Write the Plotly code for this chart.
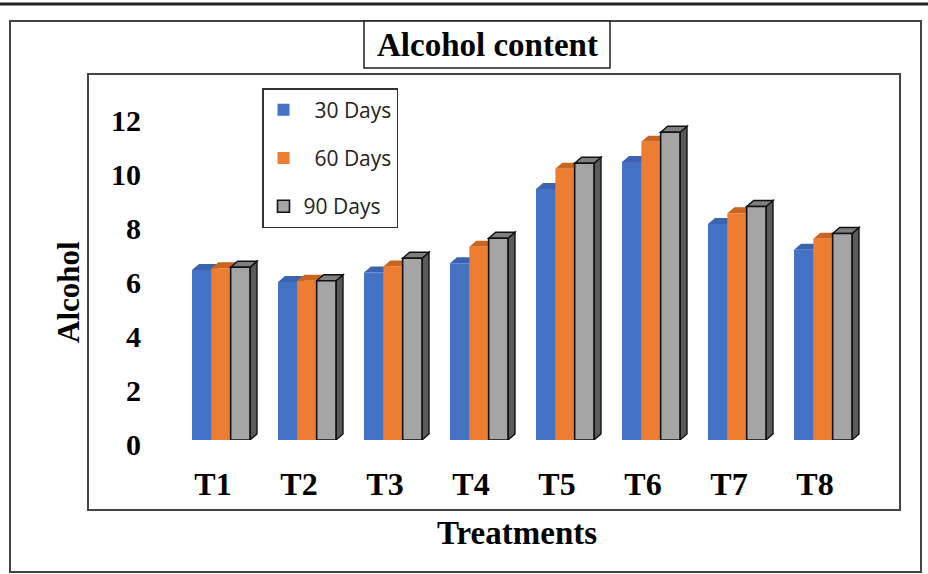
import plotly.graph_objects as go

categories = ["T1", "T2", "T3", "T4", "T5", "T6", "T7", "T8"]
days_30 = [6.3, 5.85, 6.2, 6.55, 9.3, 10.3, 8.0, 7.05]
days_60 = [6.36, 5.9, 6.43, 7.16, 10.05, 11.05, 8.4, 7.45]
days_90 = [6.4, 5.9, 6.73, 7.47, 10.25, 11.4, 8.65, 7.65]
series_names = ["\u00a0\u00a030 Days", "\u00a0\u00a060 Days", "90 Days"]
y_ticks = [0, 2, 4, 6, 8, 10, 12]

W, H = 928, 574
def px(x):
    return x / W
def py(y):
    return 1 - y / H

front = ["#4472C4", "#ED7D31", "#A5A5A5"]
cap = ["#3B63B0", "#C9651F", "#7F7F7F"]
side = ["#2F5597", "#B0531A", "#5A5A5A"]
outline = [None, None, "#111111"]

bargap = 0.326
gw = 1 - bargap
bw = gw / 3
plot_l, plot_r, plot_b, plot_t = 178, 866, 440, 116
dx = 7 / ((plot_r - plot_l) / len(categories))
dy = 6 / ((plot_b - plot_t) / 12)

xs = list(range(len(categories)))
fig = go.Figure()
all_vals = [days_30, days_60, days_90]
for j, vals in enumerate(all_vals):
    mk = dict(color=front[j])
    if outline[j]:
        mk["line"] = dict(color=outline[j], width=1.6)
    else:
        mk["line"] = dict(width=0)
    fig.add_trace(go.Bar(x=xs, y=vals, name=series_names[j], marker=mk,
                         legendgroup=f"g{j}"))

shapes = []
for j, vals in enumerate(all_vals):
    for i, v in enumerate(vals):
        xc = i - gw / 2 + bw * (j + 0.5)
        x0 = xc - bw / 2
        x1 = xc + bw / 2
        ln = dict(color=outline[j], width=1.4) if outline[j] else dict(width=0)
        shapes.append(dict(type="path", xref="x", yref="y", layer="below",
                           path=f"M {x1},0 L {x1+dx},{dy} L {x1+dx},{v+dy} L {x1},{v} Z",
                           fillcolor=side[j], line=ln))
        shapes.append(dict(type="path", xref="x", yref="y", layer="below",
                           path=f"M {x0},{v} L {x0+dx},{v+dy} L {x1+dx},{v+dy} L {x1},{v} Z",
                           fillcolor=cap[j], line=ln))

# frames
shapes.append(dict(type="line", xref="paper", yref="paper", x0=0, x1=1,
                   y0=py(4), y1=py(4), line=dict(color="#222", width=3), layer="above"))
shapes.append(dict(type="rect", xref="paper", yref="paper", x0=px(10), x1=px(921),
                   y0=py(572), y1=py(21), line=dict(color="#444", width=2), layer="above"))
shapes.append(dict(type="rect", xref="paper", yref="paper", x0=px(88), x1=px(900),
                   y0=py(510), y1=py(74), line=dict(color="#444", width=2), layer="above"))
shapes.append(dict(type="rect", xref="paper", yref="paper", x0=px(364), x1=px(610),
                   y0=py(68), y1=py(21), line=dict(color="#222", width=1.5),
                   fillcolor="white", layer="above"))

serif = "Liberation Serif"
annotations = [
    dict(text="<b>Alcohol content</b>", x=px(487), y=py(45), xref="paper", yref="paper",
         xanchor="center", yanchor="middle",
         showarrow=False, font=dict(family=serif, size=33, color="black")),
    dict(text="<b>Treatments</b>", x=px(517), y=py(533), xref="paper", yref="paper",
         xanchor="center", yanchor="middle",
         showarrow=False, font=dict(family=serif, size=33, color="black")),
    dict(text="<b>Alcohol</b>", x=px(68), y=py(292), xref="paper", yref="paper",
         xanchor="center", yanchor="middle",
         showarrow=False, textangle=-90, font=dict(family=serif, size=31, color="black")),
]

fig.update_layout(
    width=W, height=H,
    margin=dict(l=0, r=0, t=0, b=0),
    paper_bgcolor="white", plot_bgcolor="rgba(0,0,0,0)",
    barmode="group", bargap=bargap, bargroupgap=0,
    shapes=shapes, annotations=annotations,
    legend=dict(x=px(262), y=py(88), xanchor="left", yanchor="top",
                bordercolor="#333", borderwidth=1.5, bgcolor="white",
                font=dict(family="Open Sans", size=21, color="#222"),
                tracegroupgap=18, traceorder="grouped"),
    showlegend=True,
    xaxis=dict(domain=[px(plot_l), px(plot_r)], range=[-0.5, len(categories) - 0.5],
               tickmode="array", tickvals=xs, ticktext=categories,
               showgrid=False, zeroline=False, showline=False, ticks="",
               tickfont=dict(family=serif, size=32, color="black", weight="bold"),
               ticklabelstandoff=22, ticklabelshift=-8, automargin=False),
    yaxis=dict(domain=[py(plot_b), py(plot_t)], range=[0, 12],
               tickmode="array", tickvals=y_ticks,
               showgrid=False, zeroline=False, showline=False, ticks="",
               tickfont=dict(family=serif, size=30, color="black", weight="bold"),
               ticklabelstandoff=36, ticklabelshift=4, automargin=False),
)
fig.write_html("out.html", config={"displayModeBar": False},
               post_script="document.body.style.margin='0';document.body.style.overflow='hidden';")
